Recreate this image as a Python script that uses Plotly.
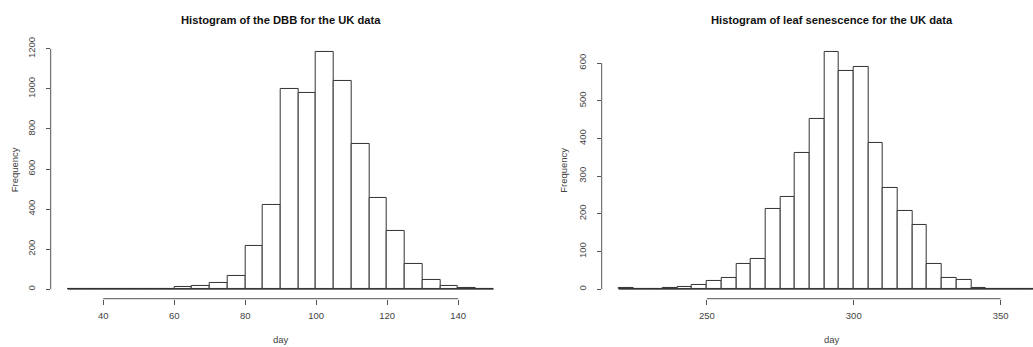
import plotly.graph_objects as go

# ---- data ----
bin_width = 5
dbb_start = 30
dbb_counts = [0, 0, 0, 1, 2, 2, 11, 16, 31, 67, 218, 423, 998, 982, 1187, 1039,
              726, 454, 289, 128, 44, 15, 5, 3]
leaf_start = 220
leaf_counts = [2, 0, 1, 2, 6, 10, 21, 30, 68, 80, 213, 246, 361, 453, 631, 578,
               590, 389, 269, 209, 170, 66, 30, 24, 3, 0, 0, 0, 0]
dbb_xticks = [40, 60, 80, 100, 120, 140]
dbb_yticks = [0, 200, 400, 600, 800, 1000, 1200]
leaf_xticks = [250, 300, 350]
leaf_yticks = [0, 100, 200, 300, 400, 500, 600]
titles = ["Histogram of the DBB for the UK data",
          "Histogram of leaf senescence for the UK data"]

W, H = 1033, 347
FONT = "Liberation Sans, Arial, sans-serif"
TXT = "#444444"
LINE = "#555555"
BAR_LINE = "#333333"


def centers(start, counts):
    return [start + bin_width * (i + 0.5) for i in range(len(counts))]


def r_range(lo, hi):
    d = (hi - lo) * 0.04
    return [lo - d, hi + d]


dbb_edges = (dbb_start, dbb_start + bin_width * len(dbb_counts))
leaf_edges = (leaf_start, leaf_start + bin_width * len(leaf_counts))
x1r = r_range(*dbb_edges)
y1r = r_range(0, max(dbb_counts))
x2full = r_range(*leaf_edges)
y2r = r_range(0, max(leaf_counts))

# pixel layout
y_top_px, y_bot_px = 37.5, 298.0
x1_left_px, x1_right_px = 50.7, 510.7
x2_left_px = 601.7
# right panel: same R plot-region width as left, cropped at paper edge
full_w2 = x1_right_px - x1_left_px
scale2 = full_w2 / (x2full[1] - x2full[0])
x2r = [x2full[0], x2full[0] + (W - x2_left_px) / scale2]

fig = go.Figure()
for cnt, st, xa, ya in [(dbb_counts, dbb_start, "x", "y"),
                        (leaf_counts, leaf_start, "x2", "y2")]:
    fig.add_trace(go.Bar(
        x=centers(st, cnt), y=cnt, width=bin_width, xaxis=xa, yaxis=ya,
        marker=dict(color="white", line=dict(color=BAR_LINE, width=1)),
        showlegend=False, hoverinfo="x+y"))

shapes = []
# zero baselines along the binned range
for (e0, e1), xr, yr in [(dbb_edges, "x", "y"), (leaf_edges, "x2", "y2")]:
    shapes.append(dict(type="line", xref=xr, yref=yr, x0=e0, x1=e1, y0=0, y1=0,
                       line=dict(color=BAR_LINE, width=1), layer="above"))
# R-style axis lines spanning only the tick range
for xt, yt, xr, yr in [(dbb_xticks, dbb_yticks, "x", "y"),
                       (leaf_xticks, leaf_yticks, "x2", "y2")]:
    shapes.append(dict(type="line", xref=xr, yref=yr + " domain",
                       x0=xt[0], x1=xt[-1], y0=0, y1=0,
                       line=dict(color=LINE, width=1)))
    shapes.append(dict(type="line", xref=xr + " domain", yref=yr,
                       x0=0, x1=0, y0=yt[0], y1=yt[-1],
                       line=dict(color=LINE, width=1)))

ydom = [(H - y_bot_px) / H, (H - y_top_px) / H]
tickfont = dict(family=FONT, size=9.5, color=TXT)
common_x = dict(showgrid=False, zeroline=False, showline=False, ticks="outside",
                ticklen=5, tickcolor=LINE, tickwidth=1, tickfont=tickfont,
                ticklabelstandoff=3, fixedrange=True)
common_y = dict(showgrid=False, zeroline=False, showline=False, ticks="outside",
                ticklen=4, tickcolor=LINE, tickwidth=1, tickfont=tickfont,
                tickangle=-90, ticklabelstandoff=7, fixedrange=True)

annotations = []
for title, xr, cx in [(titles[0], "x", sum(x1r) / 2), (titles[1], "x2", sum(x2full) / 2)]:
    annotations.append(dict(text="<b>" + title + "</b>", xref=xr, yref="paper",
                            x=cx, y=1 - 15 / H, showarrow=False,
                            font=dict(family=FONT, size=11.2, color="#111111"),
                            xanchor="center", yanchor="middle"))
    annotations.append(dict(text="day", xref=xr, yref="paper", x=cx, y=1 - 339 / H,
                            showarrow=False, font=dict(family=FONT, size=9.5, color=TXT),
                            xanchor="center", yanchor="middle"))
for xpx, yr in [(14, "y"), (563.5, "y2")]:
    annotations.append(dict(text="Frequency", xref="paper", yref=yr + " domain",
                            x=xpx / W, y=0.5, showarrow=False, textangle=-90,
                            font=dict(family=FONT, size=9.5, color=TXT),
                            xanchor="center", yanchor="middle"))

fig.update_layout(
    width=W, height=H, margin=dict(l=0, r=0, t=0, b=0),
    paper_bgcolor="white", plot_bgcolor="white",
    font=dict(family=FONT, color=TXT),
    xaxis=dict(common_x, domain=[x1_left_px / W, x1_right_px / W], range=x1r,
               tickvals=dbb_xticks, anchor="y"),
    yaxis=dict(common_y, domain=ydom, range=y1r, tickvals=dbb_yticks, anchor="x"),
    xaxis2=dict(common_x, domain=[x2_left_px / W, 1.0], range=x2r,
                tickvals=leaf_xticks, anchor="y2"),
    yaxis2=dict(common_y, domain=ydom, range=y2r, tickvals=leaf_yticks, anchor="x2"),
    shapes=shapes, annotations=annotations, bargap=0,
)

fig.write_html("out.html")
